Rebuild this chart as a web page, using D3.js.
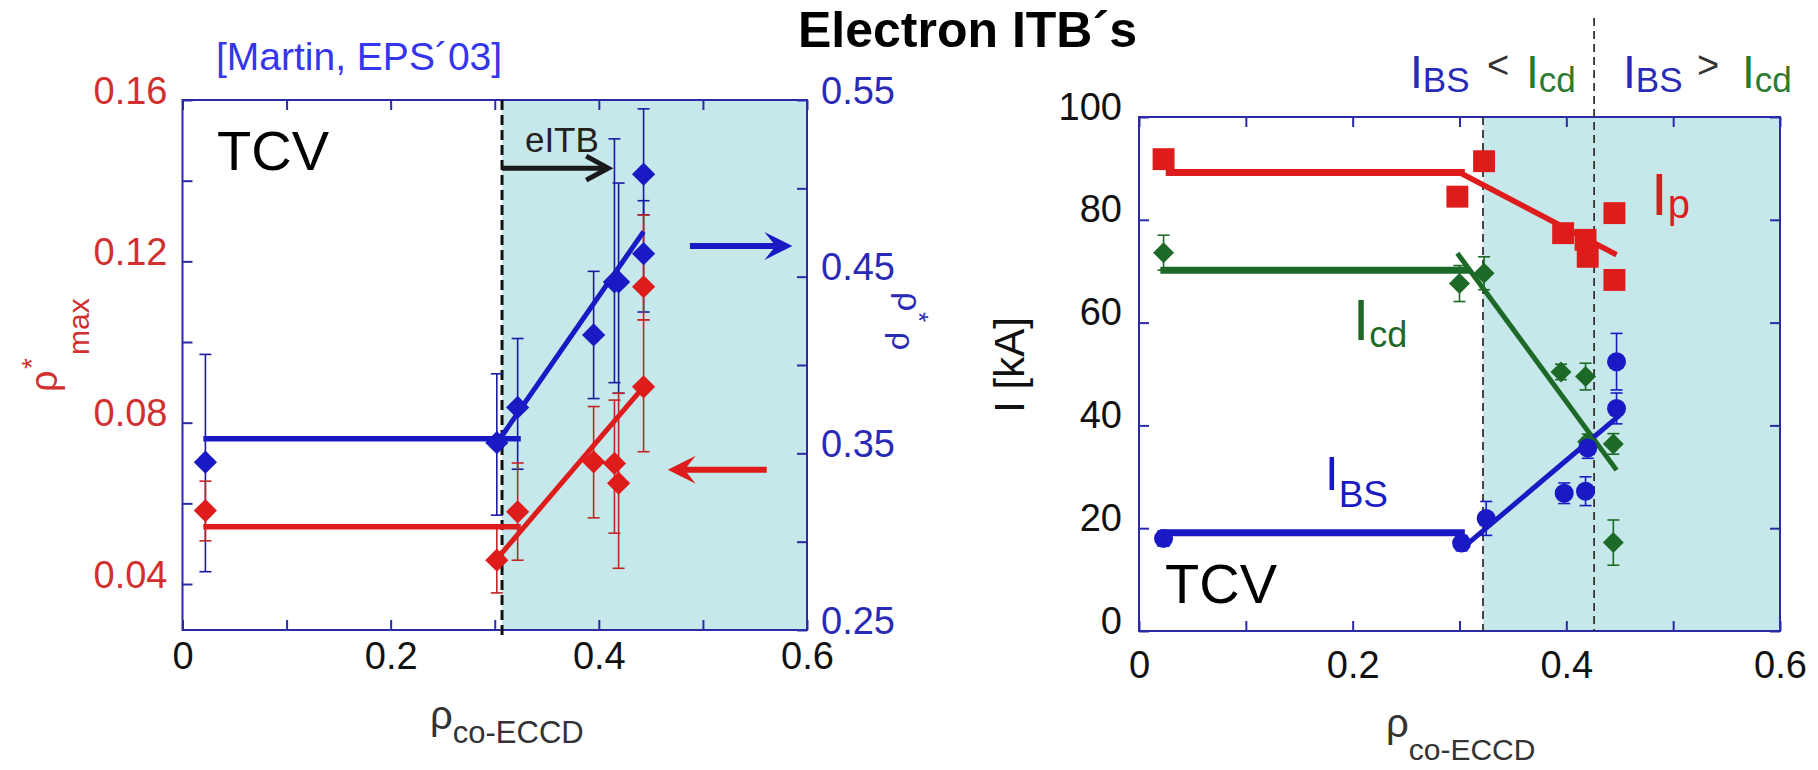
<!DOCTYPE html>
<html>
<head>
<meta charset="utf-8">
<script src="https://cdn.jsdelivr.net/npm/d3@7"></script>
<style>
body { margin: 0; background: #fff; }
text { font-family: "Liberation Sans", Arial, sans-serif; }
</style>
</head>
<body>
<svg width="1818" height="770"></svg>
<script>
// ---- left panel data: rho*_max (left axis) and rho_rho* (right axis) vs rho_co-ECCD
var leftX        = [0.022, 0.302, 0.322, 0.395, 0.415, 0.419, 0.443, 0.443]
var rhoStarMax   = [0.0582, 0.0459, 0.0579, 0.0703, 0.0699, 0.0650, 0.1137, 0.0889]
var rhoStarMaxLo = [0.0507, 0.0378, 0.0459, 0.0564, 0.0526, 0.0439, 0.1055, 0.0728]
var rhoStarMaxHi = [0.0655, 0.0540, 0.0700, 0.0840, 0.0856, 0.0873, 0.1315, 0.1055]
var rhoPos       = [0.345, 0.356, 0.376, 0.417, 0.447, 0.447, 0.508, 0.463]
var rhoPosLo     = [0.283, 0.315, 0.341, 0.381, 0.390, 0.384, 0.485, 0.430]
var rhoPosHi     = [0.406, 0.395, 0.415, 0.453, 0.528, 0.503, 0.545, 0.493]

// fit lines (flat part, rising part)
var maxFlatX = [0.020, 0.325], maxFlatY = [0.0542, 0.0542]
var maxRiseX = [0.301, 0.443], maxRiseY = [0.0459, 0.0889]
var posFlatX = [0.020, 0.325], posFlatY = [0.3583, 0.3583]
var posRiseX = [0.302, 0.443], posRiseY = [0.3557, 0.4755]

var leftXTicks = [0, 0.1, 0.2, 0.3, 0.4, 0.5, 0.6]
var leftXLabels = [0, 0.2, 0.4, 0.6]
var maxTicks = [0.04, 0.06, 0.08, 0.10, 0.12, 0.14, 0.16]
var maxLabels = [0.04, 0.08, 0.12, 0.16]
var posTicks = [0.25, 0.30, 0.35, 0.40, 0.45, 0.50, 0.55]
var posLabels = [0.25, 0.35, 0.45, 0.55]
var eitbStart = 0.307

// ---- right panel data: currents [kA] vs rho_co-ECCD
var ipX    = [0.023, 0.298, 0.323, 0.397, 0.418, 0.420, 0.445, 0.445]
var ipVal  = [91.8, 84.5, 91.4, 77.4, 76.1, 72.8, 81.3, 68.3]
var icdX   = [0.023, 0.300, 0.323, 0.395, 0.418, 0.420, 0.444, 0.444]
var icdVal = [73.6, 67.6, 69.6, 50.4, 49.5, 36.8, 36.4, 17.2]
var icdErr = [3.4, 3.5, 3.2, 1.5, 2.6, 1.5, 2.0, 4.4]
var ibsX   = [0.023, 0.302, 0.325, 0.398, 0.418, 0.420, 0.447, 0.447]
var ibsVal = [18.0, 17.1, 21.9, 26.8, 27.2, 35.6, 43.3, 52.4]
var ibsErr = [1.5, 1.5, 3.3, 2.0, 2.8, 2.0, 3.0, 5.5]

var ipFlatX = [0.025, 0.305], ipFlatY = [89.2, 89.2]
var ipRiseX = [0.300, 0.447], ipRiseY = [89.2, 73.2]
var icdFlatX = [0.020, 0.310], icdFlatY = [70.2, 70.2]
var icdRiseX = [0.298, 0.447], icdRiseY = [73.5, 31.3]
var ibsFlatX = [0.020, 0.305], ibsFlatY = [19.1, 19.1]
var ibsRiseX = [0.305, 0.450], ibsRiseY = [16.5, 42.0]

var rightXTicks = [0, 0.1, 0.2, 0.3, 0.4, 0.5, 0.6]
var rightXLabels = [0, 0.2, 0.4, 0.6]
var iTicks = [0, 20, 40, 60, 80, 100]
var bsLimits = [0.322, 0.426]

// colours
var frameCol = '#2b2ba8'
var redCol = '#de1c1c'
var blueCol = '#1a1ac4'
var greenCol = '#1d6a28'
var cyan = '#c6e8ea'

var svg = d3.select('svg')

// scales
var xL = d3.scaleLinear().domain([0, 0.6]).range([182.5, 807])
var yMax = d3.scaleLinear().domain([0.0286, 0.16]).range([630, 100])
var yPos = d3.scaleLinear().domain([0.25, 0.55]).range([630, 100])
var xR = d3.scaleLinear().domain([0, 0.6]).range([1139, 1780])
var yI = d3.scaleLinear().domain([0, 100]).range([631, 117])

function tickAxis(g, axis, tr, color, labelDy) {
    var a = g.append('g').attr('transform', tr).call(axis)
    a.attr('font-size', null).attr('font-family', null)
    a.select('.domain').remove()
    a.selectAll('.tick line').attr('stroke', frameCol).attr('stroke-width', 2)
    a.selectAll('.tick text').attr('fill', color).attr('font-size', 38)
    if (labelDy) a.selectAll('.tick text').attr('y', labelDy)
    return a
}

function arrow(g, x1, x2, y, color, w, len, half, open) {
    var dir = x2 > x1 ? 1 : -1
    if (open) {
        g.append('line').attr('x1', x1).attr('x2', x2 - dir * 2).attr('y1', y).attr('y2', y)
            .attr('stroke', color).attr('stroke-width', w)
        g.append('path')
            .attr('d', 'M' + (x2 - dir * len) + ',' + (y - half) + 'L' + x2 + ',' + y +
                'L' + (x2 - dir * len) + ',' + (y + half))
            .attr('fill', 'none').attr('stroke', color).attr('stroke-width', w)
        return
    }
    g.append('line').attr('x1', x1).attr('x2', x2 - dir * len * 0.6).attr('y1', y).attr('y2', y)
        .attr('stroke', color).attr('stroke-width', w)
    g.append('path')
        .attr('d', 'M' + x2 + ',' + y + 'L' + (x2 - dir * len) + ',' + (y - half) +
            'L' + (x2 - dir * len * 0.6) + ',' + y + 'L' + (x2 - dir * len) + ',' + (y + half) + 'Z')
        .attr('fill', color)
}

function errBars(g, xs, lo, hi, x, y, color) {
    xs.forEach(function (xv, i) {
        var px = x(xv)
        g.append('line').attr('x1', px).attr('x2', px).attr('y1', y(lo[i])).attr('y2', y(hi[i]))
            .attr('stroke', color).attr('stroke-width', 1.6)
        ;[lo[i], hi[i]].forEach(function (v) {
            g.append('line').attr('x1', px - 6).attr('x2', px + 6).attr('y1', y(v)).attr('y2', y(v))
                .attr('stroke', color).attr('stroke-width', 1.6)
        })
    })
}

function segment(g, xs, ys, x, y, color, w) {
    g.append('path').datum(d3.zip(xs, ys))
        .attr('d', d3.line().x(function (d) { return x(d[0]) }).y(function (d) { return y(d[1]) }))
        .attr('stroke', color).attr('stroke-width', w).attr('fill', 'none')
}

// ================= left panel =================
var gL = svg.append('g')
gL.append('rect').attr('x', xL(eitbStart)).attr('y', yPos(0.55))
    .attr('width', xL(0.6) - xL(eitbStart)).attr('height', yPos(0.25) - yPos(0.55)).attr('fill', cyan)

tickAxis(gL, d3.axisBottom(xL).tickValues(leftXTicks).tickSize(-10).tickFormat(''), 'translate(0,630)')
tickAxis(gL, d3.axisTop(xL).tickValues(leftXTicks).tickSize(-10).tickFormat(''), 'translate(0,100)')
tickAxis(gL, d3.axisBottom(xL).tickValues(leftXLabels).tickSize(0).tickPadding(12).tickFormat(d3.format('')),
    'translate(0,630)', '#111')
tickAxis(gL, d3.axisLeft(yMax).tickValues(maxTicks).tickSize(-10).tickFormat(''), 'translate(182.5,0)')
tickAxis(gL, d3.axisLeft(yMax).tickValues(maxLabels).tickSize(0).tickPadding(15).tickFormat(d3.format('')),
    'translate(182.5,0)', '#d23030', -9)
tickAxis(gL, d3.axisRight(yPos).tickValues(posTicks).tickSize(-10).tickFormat(''), 'translate(807,0)')
tickAxis(gL, d3.axisRight(yPos).tickValues(posLabels).tickSize(0).tickPadding(14).tickFormat(d3.format('')),
    'translate(807,0)', '#2a2ab8', -9)

gL.append('rect').attr('x', xL(0)).attr('y', yPos(0.55))
    .attr('width', xL(0.6) - xL(0)).attr('height', yPos(0.25) - yPos(0.55))
    .attr('fill', 'none').attr('stroke', frameCol).attr('stroke-width', 2)

// eITB dashed boundary
gL.append('line').attr('x1', xL(eitbStart)).attr('x2', xL(eitbStart)).attr('y1', 100).attr('y2', 638)
    .attr('stroke', '#111').attr('stroke-width', 3).attr('stroke-dasharray', '10,5')

errBars(gL, leftX, rhoPosLo, rhoPosHi, xL, yPos, '#1a1aa0')
errBars(gL, leftX, rhoStarMaxLo, rhoStarMaxHi, xL, yMax, '#c42424')

segment(gL, posFlatX, posFlatY, xL, yPos, blueCol, 5.5)
segment(gL, posRiseX, posRiseY, xL, yPos, blueCol, 5)
segment(gL, maxFlatX, maxFlatY, xL, yMax, redCol, 5.5)
segment(gL, maxRiseX, maxRiseY, xL, yMax, redCol, 5)

var diamond = d3.symbol().type(d3.symbolSquare).size(270)
gL.selectAll('path.pos').data(d3.zip(leftX, rhoPos)).enter().append('path')
    .attr('d', diamond)
    .attr('transform', function (d) { return 'translate(' + xL(d[0]) + ',' + yPos(d[1]) + ') rotate(45)' })
    .attr('fill', blueCol)
gL.selectAll('path.max').data(d3.zip(leftX, rhoStarMax)).enter().append('path')
    .attr('d', diamond)
    .attr('transform', function (d) { return 'translate(' + xL(d[0]) + ',' + yMax(d[1]) + ') rotate(45)' })
    .attr('fill', redCol)

// annotations
arrow(gL, xL(eitbStart), xL(0.409), yMax(0.1431), '#1a1a1a', 5, 22, 12, true)
gL.append('text').attr('x', xL(0.329)).attr('y', 152).attr('font-size', 35).attr('fill', '#222').text('eITB')
arrow(gL, xL(0.4875), xL(0.586), yPos(0.4674), blueCol, 6, 28, 14)
arrow(gL, xL(0.5613), xL(0.4662), yMax(0.0683), redCol, 6, 28, 14)
gL.append('text').attr('x', 217).attr('y', 170).attr('font-size', 56).attr('fill', '#000').text('TCV')
gL.append('text').attr('x', 216).attr('y', 70).attr('font-size', 39).attr('fill', '#3535ee').text('[Martin, EPS\u00b403]')

// axis titles
var yt = gL.append('g').attr('transform', 'translate(57,392) rotate(-90)').attr('fill', '#d23030')
yt.append('text').attr('x', 0).attr('y', 0).attr('font-size', 38).text('\u03c1')
yt.append('text').attr('x', 23).attr('y', -16).attr('font-size', 28).text('*')
yt.append('text').attr('x', 37).attr('y', 32).attr('font-size', 30).text('max')

var yt2 = gL.append('g').attr('transform', 'translate(898,292) rotate(90)').attr('fill', '#2a2ab8')
yt2.append('text').attr('x', 0).attr('y', 0).attr('font-size', 34).text('\u03c1')
yt2.append('text').attr('x', 20).attr('y', -12).attr('font-size', 26).text('*')
yt2.append('text').attr('x', 40).attr('y', 6).attr('font-size', 32).text('\u03c1')

var xt = gL.append('text').attr('x', 430).attr('y', 729).attr('fill', '#333')
xt.append('tspan').attr('font-size', 40).text('\u03c1')
xt.append('tspan').attr('font-size', 31).attr('dy', 14).text('co-ECCD')

// ================= right panel =================
var gR = svg.append('g')
gR.append('rect').attr('x', xR(bsLimits[0])).attr('y', yI(100))
    .attr('width', xR(0.6) - xR(bsLimits[0])).attr('height', yI(0) - yI(100)).attr('fill', cyan)

tickAxis(gR, d3.axisBottom(xR).tickValues(rightXTicks).tickSize(-10).tickFormat(''), 'translate(0,631)')
tickAxis(gR, d3.axisTop(xR).tickValues(rightXTicks).tickSize(-10).tickFormat(''), 'translate(0,117)')
tickAxis(gR, d3.axisBottom(xR).tickValues(rightXLabels).tickSize(0).tickPadding(20).tickFormat(d3.format('')),
    'translate(0,631)', '#111')
tickAxis(gR, d3.axisLeft(yI).tickValues(iTicks).tickSize(-10).tickPadding(17).tickFormat(d3.format('')),
    'translate(1139,0)', '#111', -10)
tickAxis(gR, d3.axisRight(yI).tickValues(iTicks).tickSize(-10).tickFormat(''), 'translate(1780,0)')

gR.append('rect').attr('x', xR(0)).attr('y', yI(100))
    .attr('width', xR(0.6) - xR(0)).attr('height', yI(0) - yI(100))
    .attr('fill', 'none').attr('stroke', frameCol).attr('stroke-width', 2)

gR.append('line').attr('x1', xR(bsLimits[0])).attr('x2', xR(bsLimits[0])).attr('y1', yI(100)).attr('y2', yI(0))
    .attr('stroke', '#333').attr('stroke-width', 1.8).attr('stroke-dasharray', '8,5')
gR.append('line').attr('x1', xR(bsLimits[1])).attr('x2', xR(bsLimits[1])).attr('y1', 18).attr('y2', yI(0))
    .attr('stroke', '#333').attr('stroke-width', 1.8).attr('stroke-dasharray', '8,5')

errBars(gR, icdX, icdVal.map(function (v, i) { return v - icdErr[i] }),
    icdVal.map(function (v, i) { return v + icdErr[i] }), xR, yI, greenCol)
errBars(gR, ibsX, ibsVal.map(function (v, i) { return v - ibsErr[i] }),
    ibsVal.map(function (v, i) { return v + ibsErr[i] }), xR, yI, blueCol)

segment(gR, ipFlatX, ipFlatY, xR, yI, redCol, 7)
segment(gR, ipRiseX, ipRiseY, xR, yI, redCol, 5.5)
segment(gR, icdFlatX, icdFlatY, xR, yI, greenCol, 7)
segment(gR, icdRiseX, icdRiseY, xR, yI, greenCol, 5)
segment(gR, ibsFlatX, ibsFlatY, xR, yI, blueCol, 7)
segment(gR, ibsRiseX, ibsRiseY, xR, yI, blueCol, 5)

gR.selectAll('path.ip').data(d3.zip(ipX, ipVal)).enter().append('path')
    .attr('d', d3.symbol().type(d3.symbolSquare).size(480))
    .attr('transform', function (d) { return 'translate(' + xR(d[0]) + ',' + yI(d[1]) + ')' })
    .attr('fill', redCol)
gR.selectAll('path.icd').data(d3.zip(icdX, icdVal)).enter().append('path')
    .attr('d', d3.symbol().type(d3.symbolSquare).size(220))
    .attr('transform', function (d) { return 'translate(' + xR(d[0]) + ',' + yI(d[1]) + ') rotate(45)' })
    .attr('fill', greenCol)
gR.selectAll('circle.ibs').data(d3.zip(ibsX, ibsVal)).enter().append('circle')
    .attr('cx', function (d) { return xR(d[0]) })
    .attr('cy', function (d) { return yI(d[1]) })
    .attr('r', 9.5).attr('fill', blueCol)

// labels
function sub(g, x, y, main, subText, color, fs, sfs, sdy) {
    var t = g.append('text').attr('x', x).attr('y', y).attr('fill', color)
    t.append('tspan').attr('font-size', fs).text(main)
    t.append('tspan').attr('font-size', sfs).attr('dy', sdy).text(subText)
    return t
}
sub(gR, 1651, 215, 'I', 'p', redCol, 60, 40, 3)
sub(gR, 1353, 340, 'I', 'cd', greenCol, 58, 36, 7)
sub(gR, 1325, 490, 'I', 'BS', blueCol, 49, 37, 17)
gR.append('text').attr('x', 1165).attr('y', 603).attr('font-size', 56).attr('fill', '#000').text('TCV')

sub(gR, 1410, 88, 'I', 'BS', '#2a2ab8', 46, 35, 4)
gR.append('text').attr('x', 1487).attr('y', 78).attr('font-size', 38).attr('fill', '#333').text('<')
sub(gR, 1526, 88, 'I', 'cd', '#2a7a30', 46, 35, 4)
sub(gR, 1623, 88, 'I', 'BS', '#2a2ab8', 46, 35, 4)
gR.append('text').attr('x', 1697).attr('y', 78).attr('font-size', 38).attr('fill', '#333').text('>')
sub(gR, 1742, 88, 'I', 'cd', '#2a7a30', 46, 35, 4)

gR.append('text').attr('transform', 'translate(1024,365) rotate(-90)').attr('text-anchor', 'middle')
    .attr('font-size', 42).attr('fill', '#111').text('I [kA]')

var xt2 = gR.append('text').attr('x', 1386).attr('y', 737).attr('fill', '#333')
xt2.append('tspan').attr('font-size', 40).text('\u03c1')
xt2.append('tspan').attr('font-size', 30).attr('dy', 23).text('co-ECCD')

// title
svg.append('text').attr('x', 798).attr('y', 47).attr('font-size', 50).attr('font-weight', 'bold')
    .attr('fill', '#000').text('Electron ITB\u00b4s')
</script>
</body>
</html>
